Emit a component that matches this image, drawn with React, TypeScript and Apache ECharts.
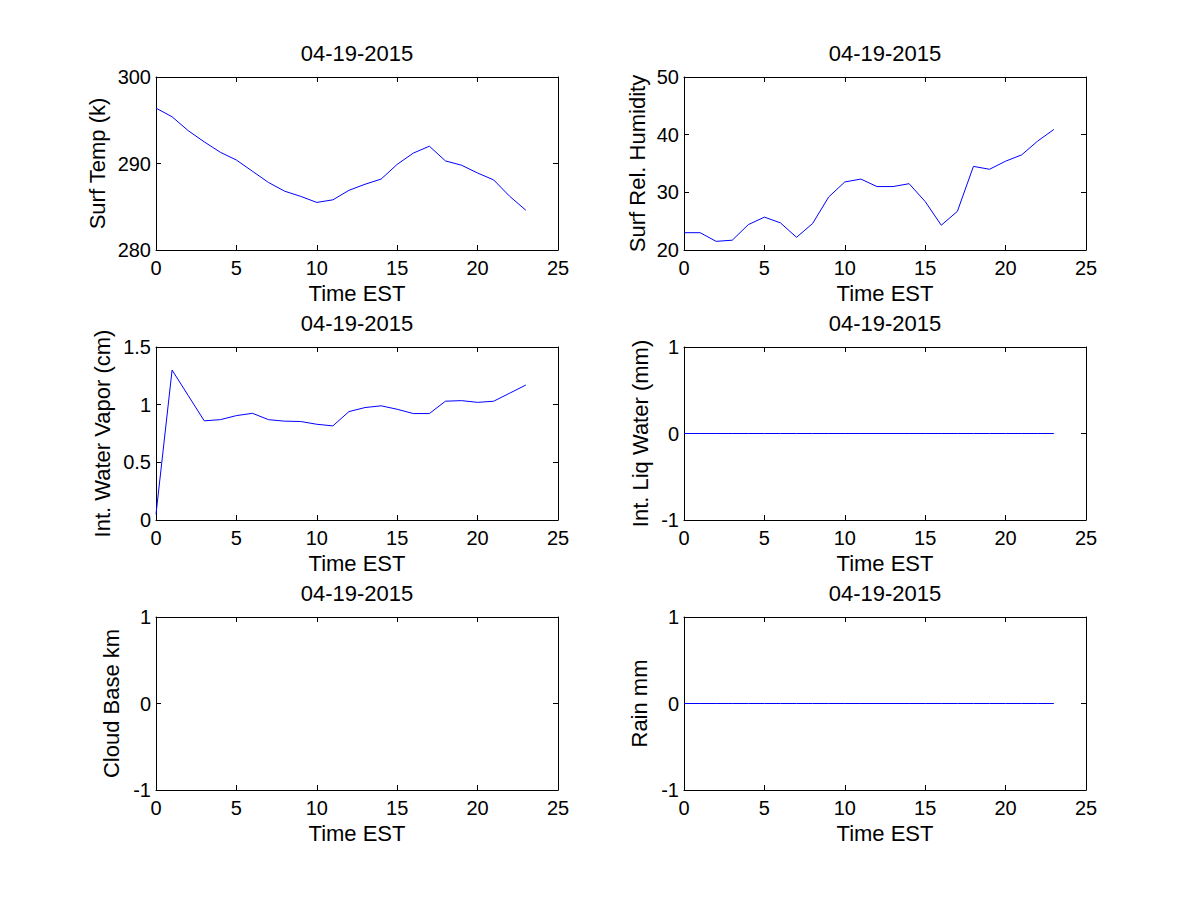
import React, { useEffect, useRef } from "react";
import * as echarts from "echarts";

const hours = [0, 1, 2, 3, 4, 5, 6, 7, 8, 9, 10, 11, 12, 13, 14, 15, 16, 17, 18, 19, 20, 21, 22, 23];
const surfTemp = [296.4, 295.4, 293.8, 292.5, 291.3, 290.4, 289.1, 287.8, 286.8, 286.2, 285.5, 285.8, 286.9, 287.6, 288.2, 289.9, 291.2, 292.0, 290.3, 289.8, 288.9, 288.1, 286.2, 284.6];
const surfHumidity = [23.0, 23.0, 21.5, 21.7, 24.4, 25.7, 24.7, 22.2, 24.6, 29.2, 31.8, 32.3, 31.0, 31.0, 31.5, 28.4, 24.3, 26.7, 34.5, 34.0, 35.4, 36.5, 38.9, 40.9];
const waterVapor = [0.05, 1.30, 1.08, 0.86, 0.87, 0.905, 0.925, 0.87, 0.857, 0.854, 0.83, 0.816, 0.94, 0.975, 0.99, 0.96, 0.923, 0.923, 1.03, 1.035, 1.02, 1.03, 1.10, 1.17];
const liqWater = [0, 0, 0, 0, 0, 0, 0, 0, 0, 0, 0, 0, 0, 0, 0, 0, 0, 0, 0, 0, 0, 0, 0, 0];
const cloudBase: (number | null)[] = [null, null, null, null, null, null, null, null, null, null, null, null, null, null, null, null, null, null, null, null, null, null, null, null];
const rain = [0, 0, 0, 0, 0, 0, 0, 0, 0, 0, 0, 0, 0, 0, 0, 0, 0, 0, 0, 0, 0, 0, 0, 0];

const dateTitle = "04-19-2015";
const xLabel = "Time EST";
const yLabels = ["Surf Temp (k)", "Surf Rel. Humidity", "Int. Water Vapor (cm)", "Int. Liq Water (mm)", "Cloud Base km", "Rain mm"];
const yMins = [280, 20, 0, -1, -1, -1];
const yMaxs = [300, 50, 1.5, 1, 1, 1];
const yIntervals = [10, 10, 0.5, 1, 1, 1];
const seriesValues = [surfTemp, surfHumidity, waterVapor, liqWater, cloudBase, rain];

const FONT = "Liberation Sans, Arial, Helvetica, sans-serif";

export default function App() {
  const ref = useRef<HTMLDivElement>(null);
  useEffect(() => {
    if (!ref.current) return;
    const chart = echarts.init(ref.current, null, { renderer: "svg" });
    const colLeft = [156, 684];
    const rowTop = [77, 347, 617];
    const W = 402;
    const H = 173;
    const yGaps = [48, 36, 43, 33, 34, 34];
    const grids: any[] = [];
    const xAxes: any[] = [];
    const yAxes: any[] = [];
    const series: any[] = [];
    const black = "#000000";
    for (let i = 0; i < 6; i++) {
      const r = Math.floor(i / 2);
      const c = i % 2;
      grids.push({ left: colLeft[c], top: rowTop[r], width: W, height: H, containLabel: false });
      xAxes.push({
        type: "value", gridIndex: i, position: "bottom", min: 0, max: 25, interval: 5,
        name: xLabel, nameLocation: "middle", nameGap: 32,
        nameTextStyle: { color: black, fontSize: 22, fontFamily: FONT },
        axisLine: { onZero: false, lineStyle: { color: black, width: 1 } },
        axisTick: { inside: true, length: 5, lineStyle: { color: black } },
        axisLabel: { color: black, fontSize: 20, fontFamily: FONT, margin: 8 },
        splitLine: { show: false },
      });
      xAxes.push({
        type: "value", gridIndex: i, position: "top", min: 0, max: 25, interval: 5,
        name: dateTitle, nameLocation: "middle", nameGap: 13,
        nameTextStyle: { color: black, fontSize: 22, fontFamily: FONT },
        axisLine: { onZero: false, lineStyle: { color: black, width: 1 } },
        axisTick: { inside: true, length: 5, lineStyle: { color: black } },
        axisLabel: { show: false },
        splitLine: { show: false },
      });
      yAxes.push({
        type: "value", gridIndex: i, position: "left", min: yMins[i], max: yMaxs[i], interval: yIntervals[i],
        name: yLabels[i], nameLocation: "middle", nameGap: yGaps[i],
        nameTextStyle: { color: black, fontSize: 22, fontFamily: FONT },
        axisLine: { show: true, onZero: false, lineStyle: { color: black, width: 1 } },
        axisTick: { show: true, inside: true, length: 5, lineStyle: { color: black } },
        axisLabel: { color: black, fontSize: 20, fontFamily: FONT, margin: 5 },
        splitLine: { show: false },
      });
      yAxes.push({
        type: "value", gridIndex: i, position: "right", min: yMins[i], max: yMaxs[i], interval: yIntervals[i],
        axisLine: { show: true, onZero: false, lineStyle: { color: black, width: 1 } },
        axisTick: { show: true, inside: true, length: 5, lineStyle: { color: black } },
        axisLabel: { show: false },
        splitLine: { show: false },
      });
      series.push({
        type: "line",
        xAxisIndex: i * 2,
        yAxisIndex: i * 2,
        data: hours.map((h, k) => [h, seriesValues[i][k]]),
        showSymbol: false,
        symbol: "none",
        connectNulls: false,
        lineStyle: { color: "#0000ff", width: 1 },
        itemStyle: { color: "#0000ff" },
      });
    }
    chart.setOption({
      animation: false,
      backgroundColor: "#ffffff",
      grid: grids,
      xAxis: xAxes,
      yAxis: yAxes,
      series,
    });
    return () => chart.dispose();
  }, []);
  return (
    <div
      ref={ref}
      style={{ position: "absolute", left: 0, top: 0, width: 1200, height: 900, background: "#ffffff" }}
    />
  );
}
